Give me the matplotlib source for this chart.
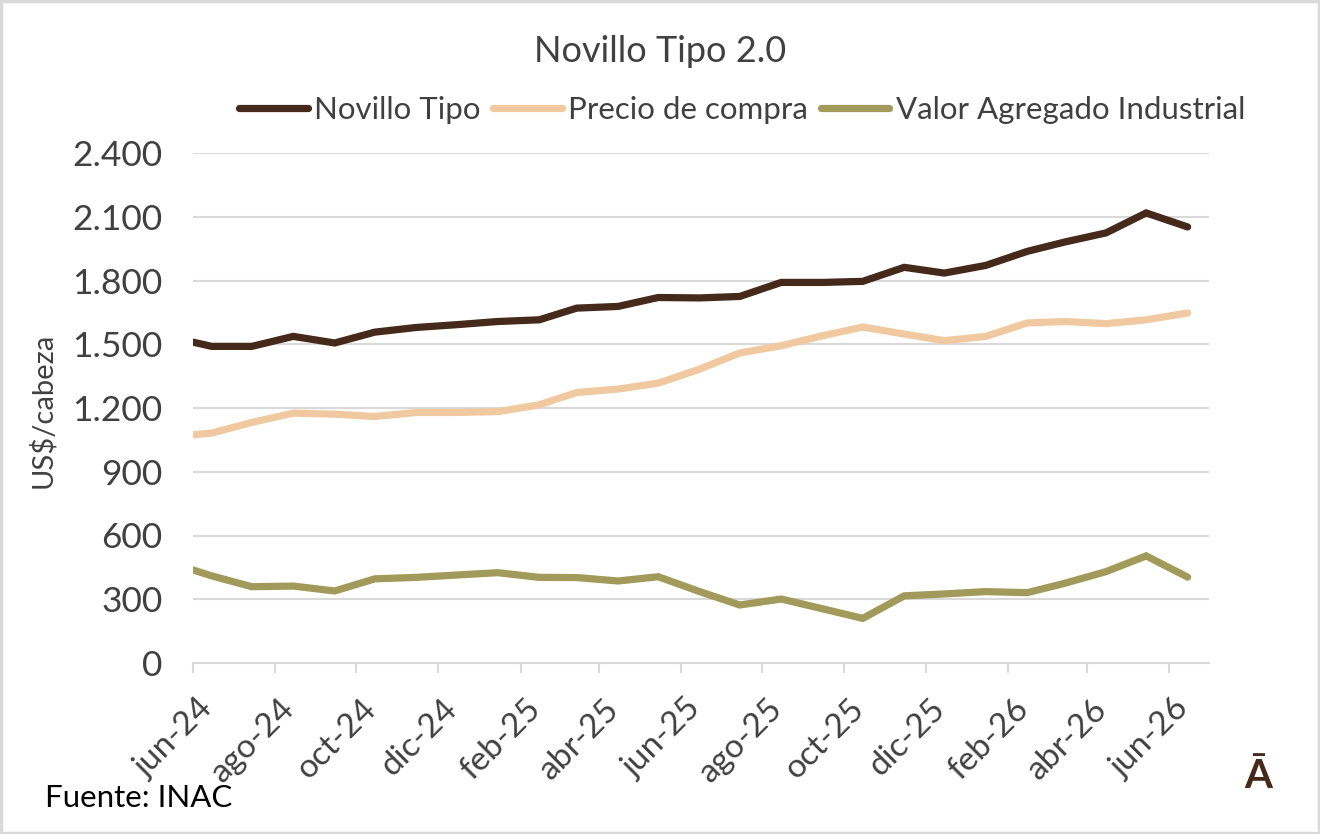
import numpy as np
import pandas as pd
import matplotlib
matplotlib.use('Agg')
import matplotlib.pyplot as plt
import matplotlib.transforms as mtransforms
from matplotlib.patches import Rectangle

# datos (US$/cabeza)
fechas = ['2024-06-01', '2024-06-15', '2024-07-15', '2024-08-15', '2024-09-15',
          '2024-10-15', '2024-11-15', '2024-12-15', '2025-01-15', '2025-02-15',
          '2025-03-15', '2025-04-15', '2025-05-15', '2025-06-15', '2025-07-15',
          '2025-08-15', '2025-09-15', '2025-10-15', '2025-11-15', '2025-12-15',
          '2026-01-15', '2026-02-15', '2026-03-15', '2026-04-15', '2026-05-15',
          '2026-06-15']
novillo = [1510, 1490, 1490, 1537, 1506, 1557, 1579, 1592, 1607, 1615, 1670, 1678, 1720,
           1718, 1725, 1791, 1791, 1796, 1862, 1835, 1871, 1937, 1981, 2024, 2118, 2052]
precio = [1074, 1082, 1132, 1176, 1171, 1160, 1179, 1179, 1183, 1215, 1273, 1289, 1317,
          1383, 1459, 1493, 1540, 1581, 1548, 1517, 1537, 1600, 1607, 1597, 1615, 1647]
valor = [438, 410, 359, 362, 339, 396, 403, 414, 425, 403, 402, 386, 406,
         336, 273, 301, 255, 210, 316, 325, 336, 331, 375, 430, 504, 404]

tick_fechas = ['2024-06-01', '2024-08-01', '2024-10-01', '2024-12-01', '2025-02-01',
               '2025-04-01', '2025-06-01', '2025-08-01', '2025-10-01', '2025-12-01',
               '2026-02-01', '2026-04-01', '2026-06-01']
tick_labels = ['jun-24', 'ago-24', 'oct-24', 'dic-24', 'feb-25', 'abr-25', 'jun-25',
               'ago-25', 'oct-25', 'dic-25', 'feb-26', 'abr-26', 'jun-26']
y_ticks = [0, 300, 600, 900, 1200, 1500, 1800, 2100, 2400]
y_labels = ['0', '300', '600', '900', '1.200', '1.500', '1.800', '2.100', '2.400']

plt.rcParams['font.family'] = ['Lato', 'DejaVu Sans']
gris = '#404040'
c_novillo = '#45291a'
c_precio = '#f0c9a0'
c_valor = '#a19a5a'

x = pd.to_datetime(fechas)

fig = plt.figure(figsize=(13.2, 8.34), dpi=100)
ax = fig.add_axes([193 / 1320, 1 - 663 / 834, (1209 - 193) / 1320, (663 - 153) / 834])

ax.plot(x, novillo, color=c_novillo, lw=5.2, label='Novillo Tipo', solid_capstyle='round', solid_joinstyle='miter')
ax.plot(x, precio, color=c_precio, lw=5.2, label='Precio de compra', solid_capstyle='round', solid_joinstyle='miter')
ax.plot(x, valor, color=c_valor, lw=5.2, label='Valor Agregado Industrial', solid_capstyle='round', solid_joinstyle='miter')

ax.set_xlim(pd.Timestamp('2024-06-01'), pd.Timestamp('2026-07-01'))
ax.set_ylim(0, 2400)
ax.set_yticks(y_ticks)
ax.set_yticklabels(y_labels)
ax.grid(axis='y', color='#d9d9d9', lw=1.5)
ax.set_axisbelow(True)
for s in ['top', 'right', 'left']:
    ax.spines[s].set_visible(False)
ax.spines['bottom'].set_color('#d9d9d9')
ax.spines['bottom'].set_linewidth(1.5)
ax.tick_params(axis='y', length=0, pad=22, labelsize=25.5, labelcolor=gris)
ax.tick_params(axis='x', length=7, width=1.5, color='#d9d9d9', pad=15, labelsize=24, labelcolor=gris)

ax.set_xticks(pd.to_datetime(tick_fechas))
ax.set_xticklabels(tick_labels, rotation=45, ha='right', va='top')
offset = mtransforms.ScaledTranslation(26 / 100, 0, fig.dpi_scale_trans)
for lab in ax.get_xticklabels():
    lab.set_transform(lab.get_transform() + offset)

fig.text(660 / 1320, 1 - 52 / 834, 'Novillo Tipo 2.0', ha='center', va='center', fontsize=26, color=gris)
fig.legend(loc='center', bbox_to_anchor=(742 / 1320, 1 - 110 / 834), ncol=3, frameon=False,
           fontsize=22.5, handlelength=2.2, handletextpad=0.2, columnspacing=0.4, labelcolor=gris)
fig.text(42 / 1320, 1 - 410 / 834, 'US$/cabeza', rotation=90, ha='center', va='center', fontsize=21, color=gris)
fig.text(45 / 1320, 1 - 798 / 834, 'Fuente: INAC', ha='left', va='center', fontsize=22.5, color='black')
fig.text(1258 / 1320, 1 - 777 / 834, 'Ā', ha='center', va='center', fontsize=29, fontweight='bold', color=c_novillo)

fig.patches.append(Rectangle((0.001, 0.001), 0.998, 0.998, transform=fig.transFigure,
                             fill=False, edgecolor='#d9d9d9', lw=2.5))

fig.savefig('out.png', dpi=100)
